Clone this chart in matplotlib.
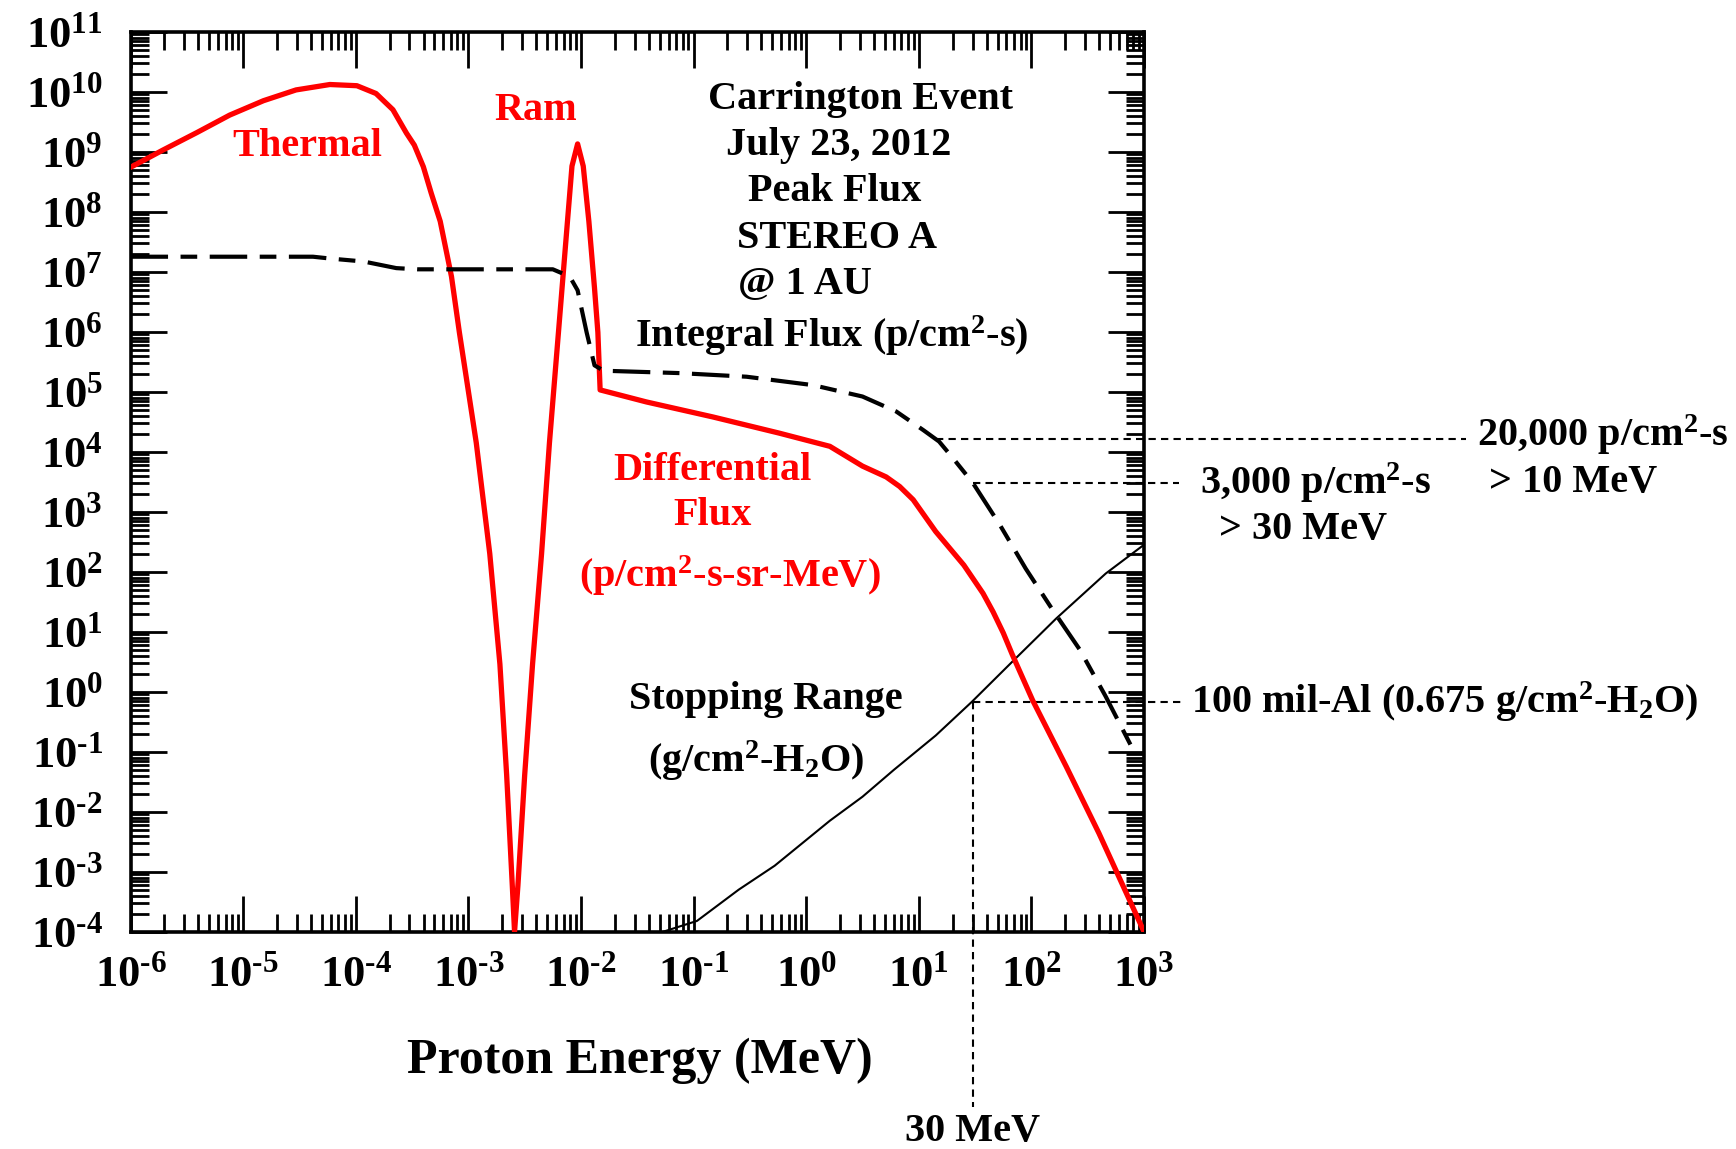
import numpy as np
import matplotlib.pyplot as plt
from matplotlib.ticker import LogLocator, FuncFormatter, NullFormatter

plt.rcParams['font.family'] = 'serif'
plt.rcParams['font.serif'] = ['Liberation Serif', 'DejaVu Serif']
plt.rcParams['font.weight'] = 'bold'
plt.rcParams['mathtext.fontset'] = 'custom'
plt.rcParams['mathtext.rm'] = 'Liberation Serif:bold'
plt.rcParams['mathtext.it'] = 'Liberation Serif:bold'
plt.rcParams['mathtext.bf'] = 'Liberation Serif:bold'

# Curves, kept as log10 of the values
# differential flux (p/cm2-s-sr-MeV) vs proton energy (MeV)
diff_log_e = [-6.0, -5.71, -5.41, -5.12, -4.82, -4.53, -4.23, -3.99, -3.82, -3.67,
              -3.55, -3.48, -3.40, -3.33, -3.25, -3.15, -3.08, -2.93, -2.81, -2.72,
              -2.66, -2.61, -2.59, -2.56, -2.50, -2.43, -2.35, -2.28, -2.20, -2.12,
              -2.08, -2.03, -1.98, -1.93, -1.88, -1.85, -1.83, -1.42, -0.83, -0.24,
              0.21, 0.50, 0.71, 0.83, 0.95, 1.15, 1.40, 1.57, 1.66, 1.75,
              1.83, 2.01, 2.31, 2.60, 3.0]
diff_log_f = [8.74, 9.03, 9.32, 9.61, 9.85, 10.03, 10.12, 10.10, 9.97, 9.70,
              9.31, 9.11, 8.75, 8.31, 7.84, 6.92, 5.99, 4.15, 2.30, 0.46,
              -1.39, -3.23, -4.0, -3.23, -1.39, 0.46, 2.30, 4.15, 5.99, 7.84,
              8.76, 9.13, 8.76, 7.84, 6.73, 5.99, 5.03, 4.83, 4.58, 4.31,
              4.09, 3.76, 3.58, 3.42, 3.20, 2.67, 2.11, 1.64, 1.33, 0.98,
              0.62, -0.14, -1.25, -2.36, -4.0]

# integral flux (p/cm2-s)
int_log_e = [-6.0, -4.38, -4.23, -3.93, -3.64, -3.45, -2.25, -2.10, -2.03, -1.95,
             -1.88, -1.80, -1.12, -0.53, 0.06, 0.50, 0.80, 1.04, 1.18, 1.30,
             1.48, 1.72, 1.95, 2.19, 2.43, 2.66, 2.89]
int_log_f = [7.25, 7.25, 7.22, 7.17, 7.06, 7.04, 7.04, 6.92, 6.69, 5.99,
             5.44, 5.35, 5.31, 5.25, 5.11, 4.92, 4.67, 4.36, 4.17, 3.90,
             3.48, 2.78, 2.05, 1.36, 0.70, -0.08, -0.92]

# stopping range (g/cm2-H2O)
range_log_e = [-1.27, -0.97, -0.6, -0.28, 0.21, 0.5, 0.78, 1.15, 1.47, 1.83,
               2.22, 2.66, 3.0]
range_log_g = [-4.0, -3.82, -3.3, -2.9, -2.15, -1.75, -1.30, -0.73, -0.17, 0.50,
               1.22, 1.97, 2.45]

# reference levels marked with dotted lines
flux_gt10 = 1.6e4      # drawn just under the "20,000" label
flux_gt30 = 3.0e3
range_100mil = 0.675
e_30mev = 30.0

red = '#ff0000'
fs = 29

fig = plt.figure(figsize=(17.36, 11.49), dpi=100)
ax = fig.add_axes([0.0752, 0.1891, 0.5838, 0.7833])

ax.plot(10 ** np.array(diff_log_e), 10 ** np.array(diff_log_f), color=red, lw=3.8,
        solid_joinstyle='round', zorder=3)
ax.plot(10 ** np.array(int_log_e), 10 ** np.array(int_log_f), color='black', lw=3,
        dashes=(9, 3, 4, 3), zorder=4)
ax.plot(10 ** np.array(range_log_e), 10 ** np.array(range_log_g), color='black', lw=1.5)

ax.set_xscale('log')
ax.set_yscale('log')

# dotted guide lines, some running outside the axes
dot = dict(color='black', lw=1.5, dashes=(3.5, 2.5), clip_on=False)
e10_start = 10 ** np.interp(np.log10(flux_gt10), int_log_f[::-1], int_log_e[::-1])
ax.plot([e10_start, 7.2e5], [flux_gt10, flux_gt10], **dot)
ax.plot([e_30mev, 2.05e3], [flux_gt30, flux_gt30], **dot)
ax.plot([e_30mev, 2.2e3], [range_100mil, range_100mil], **dot)
ax.plot([e_30mev, e_30mev], [range_100mil, 1.2e-7], **dot)

ax.set_xlim(1e-6, 1e3)
ax.set_ylim(1e-4, 1e11)


def pow_label(v, pos):
    n = int(round(np.log10(v)))
    if n < 0:
        return r'$10^{\text{-}%d}$' % -n
    return r'$10^{%d}$' % n


for axis in (ax.xaxis, ax.yaxis):
    axis.set_major_locator(LogLocator(base=10, numticks=40))
    axis.set_minor_locator(LogLocator(base=10, subs=np.arange(2, 10), numticks=40))
    axis.set_major_formatter(FuncFormatter(pow_label))
    axis.set_minor_formatter(NullFormatter())
ax.tick_params(which='both', direction='in', top=True, right=True, width=2)
ax.tick_params(which='major', length=26, labelsize=32)
ax.tick_params(which='minor', length=13)
ax.tick_params(axis='y', pad=20)
ax.tick_params(axis='x', pad=17)
for s in ax.spines.values():
    s.set_linewidth(2.6)

# labels inside the plot
ax.text(10 ** -4.43, 10 ** 9.09, 'Thermal', color=red, fontsize=fs, ha='center', va='center')
ax.text(10 ** -2.40, 10 ** 9.68, 'Ram', color=red, fontsize=fs, ha='center', va='center')

ax.text(10 ** 0.485, 10 ** 9.87, 'Carrington Event', fontsize=fs, ha='center', va='center')
ax.text(10 ** 0.29, 10 ** 9.11, 'July 23, 2012', fontsize=fs, ha='center', va='center')
ax.text(10 ** 0.25, 10 ** 8.34, 'Peak Flux', fontsize=fs, ha='center', va='center')
ax.text(10 ** 0.27, 10 ** 7.56, 'STEREO A', fontsize=fs, ha='center', va='center')
ax.text(10 ** -0.015, 10 ** 6.79, '@ 1 AU', fontsize=fs, ha='center', va='center')
ax.text(10 ** 0.23, 10 ** 5.94, r'Integral Flux (p/cm$^{2}$-s)', fontsize=fs,
        ha='center', va='center')

ax.text(10 ** -0.83, 10 ** 3.69, 'Differential', color=red, fontsize=fs, ha='center', va='center')
ax.text(10 ** -0.83, 10 ** 2.93, 'Flux', color=red, fontsize=fs, ha='center', va='center')
ax.text(10 ** -0.674, 10 ** 1.93, r'(p/cm$^{2}$-s-sr-MeV)', color=red, fontsize=fs,
        ha='center', va='center')

ax.text(10 ** -0.36, 10 ** -0.13, 'Stopping Range', fontsize=fs, ha='center', va='center')
ax.text(10 ** -0.44, 10 ** -1.15, r'(g/cm$^{2}$-H$_{2}$O)', fontsize=fs, ha='center', va='center')

# labels outside the plot
ax.text(10 ** 5.96, 10 ** 4.28, r'20,000 p/cm$^{2}$-s', fontsize=fs, ha='left', va='center')
ax.text(10 ** 6.06, 10 ** 3.48, '> 10 MeV', fontsize=fs, ha='left', va='center')
ax.text(10 ** 3.50, 10 ** 3.48, r'3,000 p/cm$^{2}$-s', fontsize=fs, ha='left', va='center')
ax.text(10 ** 4.41, 10 ** 2.71, '> 30 MeV', fontsize=fs, ha='center', va='center')
ax.text(10 ** 3.42, 10 ** -0.17, r'100 mil-Al (0.675 g/cm$^{2}$-H$_{2}$O)', fontsize=fs,
        ha='left', va='center')
ax.text(10 ** 1.477, 10 ** -7.33, '30 MeV', fontsize=fs, ha='center', va='center')

fig.text(0.3686, 0.0769, 'Proton Energy (MeV)', fontsize=36, ha='center', va='center')

fig.savefig('out.png', dpi=100)
